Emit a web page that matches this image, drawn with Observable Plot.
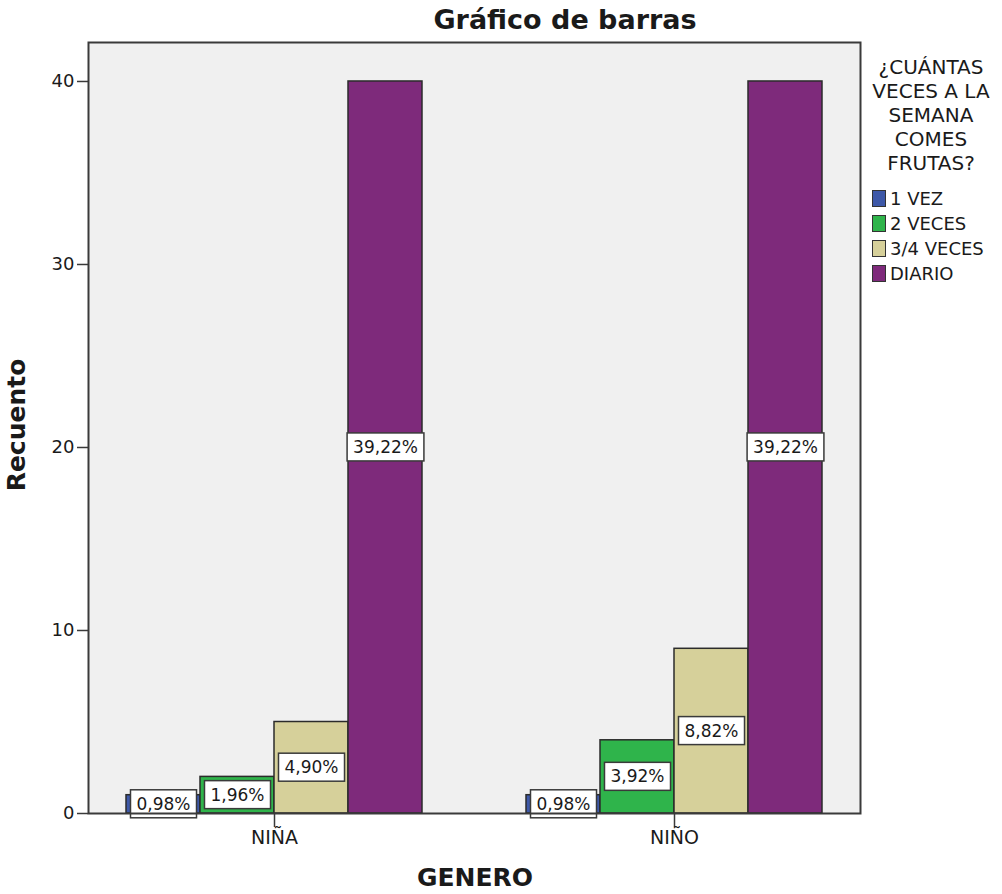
<!DOCTYPE html>
<html>
<head>
<meta charset="utf-8">
<script src="https://cdn.jsdelivr.net/npm/d3@7"></script>
<script src="https://cdn.jsdelivr.net/npm/@observablehq/plot@0.6"></script>
<style>
  html, body { margin: 0; padding: 0; background: #fff; }
  #chart { position: relative; width: 1002px; height: 894px; font-family: "DejaVu Sans", sans-serif; color: #1a1a1a; }
  #chart svg { position: absolute; left: 0; top: 0; }
  .title { position: absolute; top: 4px; left: 415px; width: 300px; text-align: center; font: bold 27px "DejaVu Sans", sans-serif; line-height: 32px; }
  .ylab { position: absolute; left: 17px; top: 425px; transform: translate(-50%, -50%) rotate(-90deg); font: bold 25px "DejaVu Sans", sans-serif; white-space: nowrap; line-height: 30px; }
  .xlab { position: absolute; left: 475px; top: 878px; transform: translate(-50%, -50%); font: bold 25px "DejaVu Sans", sans-serif; line-height: 30px; }
  .legend { position: absolute; left: 860px; top: 55px; width: 142px; }
  .legend .ltitle { text-align: center; font: 20px "DejaVu Sans", sans-serif; line-height: 24px; }
  .legend .item { display: flex; align-items: center; height: 25px; font: 18px "DejaVu Sans", sans-serif; margin-left: 12px; white-space: nowrap; }
  .legend .sw { width: 14px; height: 17px; border: 1px solid #333; box-sizing: border-box; margin-right: 4px; }
</style>
</head>
<body>
<div id="chart"></div>
<script>
// Counts of answers per group
const generos = ["NIÑA", "NIÑO"];
const frecuencias = ["1 VEZ", "2 VECES", "3/4 VECES", "DIARIO"];
const recuentoNina = [1, 2, 5, 40];
const recuentoNino = [1, 4, 9, 40];
const colores = ["#3d58a8", "#2fb44b", "#d6d09a", "#7e2a7b"];
const yTicks = [0, 10, 20, 30, 40];

const rows = [];
generos.forEach((g, gi) => {
  const vals = gi === 0 ? recuentoNina : recuentoNino;
  frecuencias.forEach((f, i) => rows.push({genero: g, frecuencia: f, n: vals[i]}));
});
const total = d3.sum(rows, d => d.n);
const pct = d => (d.n / total * 100).toFixed(2).replace(".", ",") + "%";

const plot = Plot.plot({
  width: 1002,
  height: 894,
  marginLeft: 88,
  marginRight: 142,
  marginTop: 42,
  marginBottom: 81,
  style: {fontFamily: "DejaVu Sans, sans-serif", color: "#1a1a1a", background: "transparent"},
  fx: {domain: generos, paddingInner: 0.07, paddingOuter: 0, label: null},
  x: {domain: frecuencias, paddingInner: 0, paddingOuter: 0.5135, axis: null},
  y: {domain: [0, 42.13], label: null},
  color: {domain: frecuencias, range: colores},
  marks: [
    Plot.frame({fill: "#f0f0f0", stroke: "none", facet: "super"}),
    Plot.barY(rows, {fx: "genero", x: "frecuencia", y: "n", fill: "frecuencia", stroke: "#2b2b2b", strokeWidth: 1.5, inset: 0}),
    Plot.text(rows, {fx: "genero", x: "frecuencia", y: d => d.n / 2, text: pct, fontSize: 17, fill: "#1a1a1a"}),
    Plot.frame({stroke: "#3a3a3a", strokeWidth: 2, facet: "super"}),
    Plot.axisY({ticks: yTicks, tickSize: 11, tickPadding: 3, fontSize: 18, label: null, stroke: "#3a3a3a", strokeWidth: 1.5}),
    Plot.axisFx({anchor: "bottom", tickSize: 14, tickPadding: 3, fontSize: 19, label: null, stroke: "#3a3a3a", strokeWidth: 1.5})
  ]
});

const chart = document.getElementById("chart");
chart.appendChild(plot);

// White boxes behind the percentage labels
Array.from(plot.querySelectorAll("text"))
  .filter(t => t.textContent.endsWith("%"))
  .forEach(t => {
    const b = t.getBBox();
    const padX = 6, padY = 4;
    const r = document.createElementNS("http://www.w3.org/2000/svg", "rect");
    r.setAttribute("x", b.x - padX);
    r.setAttribute("y", b.y - padY);
    r.setAttribute("width", b.width + 2 * padX);
    r.setAttribute("height", b.height + 2 * padY);
    if (t.getAttribute("transform")) r.setAttribute("transform", t.getAttribute("transform"));
    r.setAttribute("fill", "#fff");
    r.setAttribute("stroke", "#3a3a3a");
    r.setAttribute("stroke-width", "1.5");
    t.parentNode.insertBefore(r, t);
  });

// Title, axis titles and legend
const title = document.createElement("div");
title.className = "title"; title.textContent = "Gráfico de barras";
chart.appendChild(title);
const ylab = document.createElement("div");
ylab.className = "ylab"; ylab.textContent = "Recuento";
chart.appendChild(ylab);
const xlab = document.createElement("div");
xlab.className = "xlab"; xlab.textContent = "GENERO";
chart.appendChild(xlab);

const legend = document.createElement("div");
legend.className = "legend";
const lt = document.createElement("div");
lt.className = "ltitle";
lt.innerHTML = "¿CUÁNTAS<br>VECES A LA<br>SEMANA<br>COMES<br>FRUTAS?";
legend.appendChild(lt);
const items = document.createElement("div");
items.style.marginTop = "11px";
frecuencias.forEach((f, i) => {
  const it = document.createElement("div");
  it.className = "item";
  const sw = document.createElement("span");
  sw.className = "sw"; sw.style.background = colores[i];
  it.appendChild(sw);
  it.appendChild(document.createTextNode(f));
  items.appendChild(it);
});
legend.appendChild(items);
chart.appendChild(legend);
</script>
</body>
</html>
